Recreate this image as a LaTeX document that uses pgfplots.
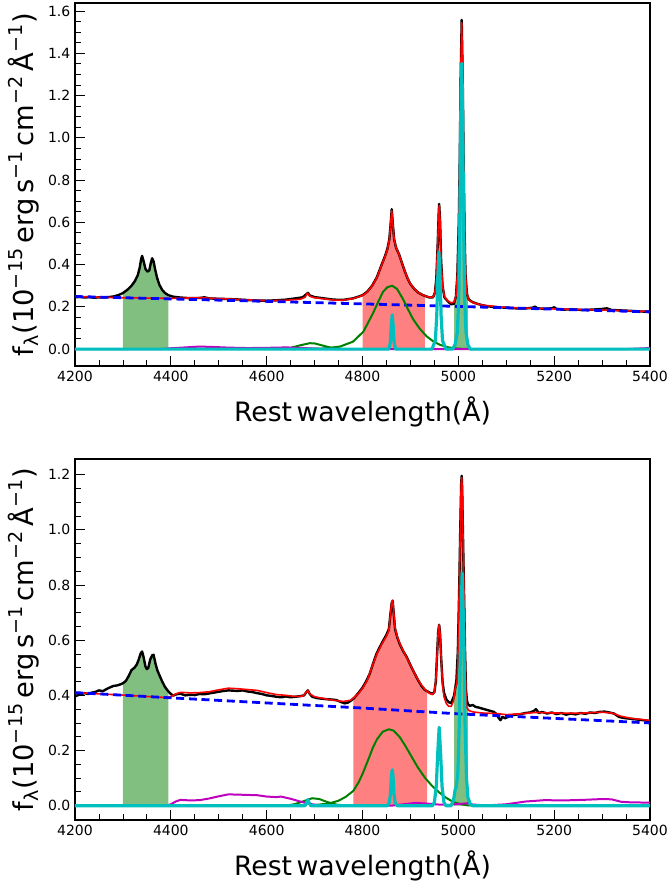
\documentclass[border=0pt]{standalone}
\usepackage{fontspec}
\setmainfont{DejaVu Sans}
\usepackage{pgfplots}
\usepackage{pgfplotstable}
\pgfplotsset{compat=1.18}
\definecolor{mplgreen}{rgb}{0,0.5,0}
\definecolor{mplcyan}{rgb}{0,0.75,0.75}
\definecolor{mplmag}{rgb}{0.75,0,0.75}
\definecolor{fillgreen}{rgb}{0.5,0.75,0.5}
\definecolor{fillred}{rgb}{1,0.5,0.5}

\pgfplotstableread{
x y
4200 0.245
4210 0.247
4220 0.244
4230 0.246
4240 0.243
4250 0.245
4260 0.244
4270 0.246
4280 0.249
4290 0.255
4300 0.265
4310 0.282
4318 0.300
4325 0.322
4331 0.350
4335 0.385
4338 0.425
4340 0.441
4343 0.418
4347 0.380
4351 0.367
4355 0.372
4358 0.405
4361 0.430
4364 0.415
4367 0.380
4371 0.340
4376 0.305
4382 0.280
4388 0.265
4395 0.255
4405 0.248
4420 0.244
4440 0.241
4460 0.242
4470 0.245
4480 0.240
4500 0.238
4520 0.237
4540 0.235
4560 0.232
4580 0.230
4600 0.229
4620 0.231
4640 0.234
4660 0.240
4675 0.245
4682 0.258
4686 0.266
4690 0.254
4700 0.246
4720 0.240
4740 0.234
4760 0.233
4780 0.240
4790 0.247
4800 0.255
4810 0.272
4820 0.300
4830 0.340
4840 0.400
4847 0.440
4852 0.475
4856 0.520
4859 0.600
4861 0.662
4863 0.600
4866 0.520
4870 0.480
4876 0.450
4882 0.410
4888 0.370
4894 0.335
4900 0.308
4908 0.285
4916 0.268
4924 0.258
4930 0.252
4940 0.244
4947 0.245
4951 0.265
4954 0.330
4957 0.500
4959 0.640
4960 0.687
4962 0.600
4964 0.420
4967 0.300
4971 0.245
4978 0.226
4985 0.212
4991 0.215
4995 0.250
4998 0.350
5001 0.600
5003 0.900
5005 1.300
5007 1.558
5009 1.300
5011 0.900
5013 0.550
5015 0.350
5018 0.262
5020 0.245
5022 0.234
5030 0.222
5040 0.214
5050 0.208
5060 0.203
5080 0.198
5100 0.196
5120 0.193
5140 0.192
5155 0.196
5160 0.201
5165 0.193
5180 0.191
5195 0.193
5200 0.198
5205 0.190
5220 0.187
5240 0.188
5260 0.185
5280 0.187
5300 0.190
5310 0.193
5320 0.185
5340 0.183
5360 0.181
5380 0.178
5400 0.177
}\specA

\pgfplotstableread{
x y
4200 0.396
4205 0.400
4212 0.404
4220 0.408
4228 0.405
4235 0.410
4242 0.412
4250 0.418
4258 0.415
4265 0.422
4272 0.428
4280 0.434
4288 0.436
4295 0.440
4300 0.444
4306 0.452
4312 0.470
4318 0.492
4324 0.500
4329 0.512
4333 0.530
4337 0.552
4340 0.559
4343 0.540
4347 0.505
4350 0.495
4353 0.500
4357 0.530
4361 0.545
4364 0.547
4368 0.515
4372 0.490
4377 0.470
4382 0.450
4388 0.430
4395 0.414
4400 0.405
4405 0.399
4412 0.404
4420 0.406
4430 0.400
4440 0.402
4450 0.401
4460 0.405
4470 0.404
4480 0.407
4490 0.410
4500 0.413
4510 0.416
4520 0.418
4530 0.417
4540 0.416
4550 0.418
4560 0.414
4570 0.412
4580 0.408
4590 0.405
4600 0.400
4610 0.398
4620 0.395
4630 0.393
4640 0.396
4650 0.393
4660 0.395
4670 0.397
4678 0.400
4683 0.412
4686 0.418
4690 0.405
4695 0.395
4705 0.390
4715 0.388
4725 0.386
4735 0.385
4745 0.383
4755 0.376
4763 0.371
4770 0.374
4777 0.382
4781 0.388
4785 0.395
4792 0.410
4800 0.428
4808 0.452
4815 0.478
4822 0.515
4829 0.550
4836 0.575
4843 0.598
4850 0.620
4855 0.640
4858 0.690
4861 0.735
4863 0.743
4865 0.700
4868 0.640
4873 0.608
4878 0.585
4885 0.560
4892 0.540
4900 0.510
4908 0.482
4916 0.455
4924 0.432
4930 0.420
4935 0.415
4940 0.410
4946 0.405
4950 0.412
4953 0.450
4956 0.560
4958 0.630
4960 0.656
4962 0.620
4964 0.540
4967 0.450
4970 0.410
4975 0.385
4980 0.375
4985 0.372
4991 0.398
4993 0.420
4996 0.455
4999 0.560
5002 0.800
5004 1.000
5006 1.170
5007 1.196
5008 1.150
5010 0.950
5012 0.760
5014 0.560
5016 0.420
5018 0.380
5020 0.368
5024 0.362
5030 0.365
5036 0.358
5042 0.356
5050 0.352
5058 0.348
5066 0.344
5074 0.340
5080 0.332
5084 0.318
5088 0.310
5092 0.322
5098 0.317
5105 0.323
5112 0.328
5120 0.330
5130 0.332
5140 0.336
5150 0.338
5158 0.344
5162 0.350
5168 0.336
5175 0.340
5185 0.334
5195 0.338
5205 0.332
5215 0.336
5225 0.330
5235 0.334
5245 0.331
5255 0.336
5265 0.333
5275 0.338
5285 0.336
5295 0.340
5305 0.341
5315 0.338
5325 0.334
5335 0.322
5345 0.318
5360 0.315
5375 0.312
5390 0.309
5400 0.307
}\specB

\pgfplotsset{
  specaxis/.style={
    scale only axis, width=431.25pt,
    xmin=4200, xmax=5400,
    xtick={4200,4400,4600,4800,5000,5200,5400},
    minor x tick num=3,
    minor y tick num=3,
    tick align=inside,
    tick pos=left,
    major tick length=7.5pt, minor tick length=4.5pt,
    every tick/.style={black, line width=0.6pt},
    axis line style={line width=0.8pt},
    tick label style={font=\fontsize{10.5}{12}\selectfont},
    /pgf/number format/assume math mode=true,
    xticklabel style={/pgf/number format/1000 sep={}},
    yticklabel style={/pgf/number format/.cd, fixed, fixed zerofill, precision=1},
    label style={font=\fontsize{20}{24}\selectfont},
    xlabel={Rest\,wavelength(Å)},
    ylabel={f\textsubscript{λ}(10\textsuperscript{−15}\,erg\,s\textsuperscript{−1}\,cm\textsuperscript{−2}\,Å\textsuperscript{−1})},
    xlabel style={at={(axis description cs:0.5,0)}, anchor=base, yshift=-41.8pt},
    ylabel style={font=\fontsize{20.5}{24}\selectfont, at={(axis description cs:-0.073,0.5)}, anchor=base},
    every axis plot post/.append style={line join=round},
  }
}

\begin{document}
\begin{tikzpicture}
\useasboundingbox (-56.25pt,2.25pt) rectangle (446.25pt,-662.25pt);
% ---------------- top panel ----------------
\begin{axis}[specaxis, at={(0,0)}, anchor=north west, height=272.25pt,
  ymin=-0.08, ymax=1.638, ytick={0,0.2,0.4,0.6,0.8,1.0,1.2,1.4,1.6}]
\addplot[fill=fillgreen, draw=none, restrict x to domain=4299.9:4395.1] table[x=x,y=y]{\specA} \closedcycle;
\addplot[fill=fillred, draw=none, restrict x to domain=4799.9:4930.1] table[x=x,y=y]{\specA} \closedcycle;
\addplot[fill=fillgreen, draw=none, restrict x to domain=4990.9:5020.1] table[x=x,y=y]{\specA} \closedcycle;
\addplot[black, line width=1.8pt] table[x=x,y=y]{\specA};
\addplot[red, line width=1.2pt] coordinates {
(4200,0.249) (4300,0.243) (4400,0.240) (4460,0.243) (4500,0.239) (4560,0.233) (4600,0.229)
(4640,0.231) (4670,0.236) (4680,0.245) (4685,0.265) (4690,0.250) (4700,0.243) (4720,0.238)
(4740,0.232) (4760,0.232) (4780,0.239) (4790,0.246) (4800,0.254) (4810,0.271) (4820,0.299)
(4830,0.338) (4840,0.398) (4847,0.438) (4852,0.472) (4856,0.518) (4859,0.600) (4861,0.655)
(4863,0.600) (4866,0.520) (4870,0.482) (4876,0.448) (4882,0.410) (4888,0.370) (4894,0.336)
(4900,0.309) (4908,0.285) (4916,0.268) (4924,0.258) (4930,0.252) (4940,0.245) (4947,0.246)
(4951,0.265) (4954,0.330) (4957,0.500) (4959,0.640) (4960,0.680) (4962,0.600) (4964,0.420)
(4967,0.300) (4971,0.248) (4978,0.228) (4985,0.219) (4991,0.222) (4995,0.250) (4998,0.350)
(5001,0.600) (5003,0.900) (5005,1.300) (5007,1.545) (5009,1.300) (5011,0.900) (5013,0.550)
(5015,0.350) (5018,0.262) (5022,0.232) (5030,0.220) (5050,0.208) (5100,0.197) (5200,0.190)
(5300,0.185) (5400,0.178)};
\addplot[blue, line width=2.1pt, dash pattern=on 6pt off 3.5pt] coordinates {
(4200,0.249) (4600,0.226) (5000,0.202) (5400,0.176)};
\addplot[mplgreen, line width=1.5pt] coordinates {
(4630,0) (4650,0.006) (4670,0.018) (4690,0.028) (4700,0.027) (4715,0.018) (4735,0.006) (4760,0)};
\addplot[mplgreen, line width=1.5pt] coordinates {
(4650,0) (4720,0.003) (4753,0.012) (4780,0.035) (4802,0.083) (4822,0.170) (4833,0.225)
(4843,0.272) (4852,0.293) (4862,0.300) (4872,0.285) (4885,0.235) (4895,0.188) (4906,0.140)
(4920,0.095) (4934,0.060) (4948,0.036) (4962,0.020) (4980,0.008) (5000,0.002) (5030,0)};
\addplot[mplmag, line width=1.5pt] coordinates {
(4200,0) (4380,0) (4400,0.004) (4430,0.008) (4460,0.012) (4490,0.010) (4520,0.007)
(4560,0.005) (4600,0.006) (4640,0.008) (4670,0.006) (4700,0.002) (4750,0) (5350,0)
(5380,0.003) (5400,0.005)};
\addplot[mplcyan, line width=2.4pt] coordinates {
(4200,0) (4855,0) (4858,0.03) (4860,0.11) (4862,0.162) (4864,0.11) (4866,0.03) (4869,0)
(4945,0) (4952,0.04) (4955,0.16) (4957,0.33) (4959.5,0.459) (4962,0.33) (4964,0.16)
(4967,0.04) (4974,0) (4988,0) (4993,0.02) (4998,0.08) (5001,0.25) (5003,0.6) (5005,1.1)
(5007.3,1.353) (5009,1.1) (5011,0.6) (5013,0.25) (5016,0.08) (5020,0.02) (5025,0) (5400,0)};
\end{axis}
% ---------------- bottom panel ----------------
\begin{axis}[specaxis, at={(0,-342pt)}, anchor=north west, height=270.75pt,
  ymin=-0.052, ymax=1.257, ytick={0,0.2,0.4,0.6,0.8,1.0,1.2}]
\addplot[fill=fillgreen, draw=none, restrict x to domain=4299.9:4395.1] table[x=x,y=y]{\specB} \closedcycle;
\addplot[fill=fillred, draw=none, restrict x to domain=4780.9:4935.1] table[x=x,y=y]{\specB} \closedcycle;
\addplot[fill=fillgreen, draw=none, restrict x to domain=4990.9:5020.1] table[x=x,y=y]{\specB} \closedcycle;
\addplot[black, line width=1.8pt] table[x=x,y=y]{\specB};
\addplot[red, line width=1.2pt] coordinates {
(4200,0.410) (4300,0.401) (4390,0.392) (4400,0.395) (4410,0.405) (4420,0.411) (4440,0.409)
(4460,0.410) (4480,0.413) (4500,0.420) (4520,0.426) (4540,0.424) (4560,0.421) (4580,0.418)
(4600,0.410) (4620,0.403) (4640,0.400) (4660,0.396) (4675,0.397) (4682,0.410) (4686,0.418)
(4690,0.405) (4700,0.395) (4720,0.388) (4740,0.382) (4760,0.378) (4775,0.382) (4790,0.404)
(4800,0.425) (4810,0.455) (4820,0.505) (4830,0.550) (4840,0.585) (4850,0.615) (4855,0.635)
(4858,0.690) (4861,0.738) (4863,0.745) (4865,0.705) (4868,0.645) (4873,0.610) (4880,0.580)
(4890,0.545) (4900,0.510) (4910,0.475) (4920,0.445) (4930,0.422) (4940,0.407) (4946,0.403)
(4950,0.412) (4953,0.455) (4956,0.560) (4958,0.630) (4960,0.656) (4962,0.620) (4964,0.540)
(4967,0.440) (4970,0.395) (4975,0.370) (4980,0.360) (4985,0.360) (4990,0.380) (4994,0.430)
(4997,0.440) (4999,0.530) (5002,0.800) (5004,1.000) (5006,1.170) (5007,1.190) (5008,1.150)
(5010,0.950) (5012,0.760) (5014,0.560) (5016,0.400) (5018,0.355) (5022,0.345) (5030,0.340)
(5050,0.336) (5080,0.334) (5100,0.330) (5130,0.333) (5160,0.338) (5200,0.336) (5250,0.335)
(5300,0.339) (5320,0.336) (5340,0.324) (5360,0.317) (5400,0.309)};
\addplot[blue, line width=2.1pt, dash pattern=on 6pt off 3.5pt] coordinates {
(4200,0.410) (4400,0.391) (4800,0.354) (5000,0.333) (5400,0.300)};
\addplot[mplgreen, line width=1.5pt] coordinates {
(4640,0) (4660,0.006) (4680,0.018) (4695,0.027) (4710,0.024) (4725,0.014) (4745,0.004) (4770,0)};
\addplot[mplgreen, line width=1.5pt] coordinates {
(4700,0.002) (4730,0.008) (4750,0.018) (4765,0.032) (4781,0.054) (4792,0.085) (4800,0.115)
(4815,0.180) (4822,0.212) (4830,0.240) (4842,0.268) (4855,0.277) (4865,0.272) (4878,0.248)
(4890,0.215) (4900,0.185) (4915,0.140) (4930,0.102) (4945,0.072) (4960,0.048) (4975,0.028)
(4990,0.013) (5005,0.005) (5020,0.001) (5040,0)};
\addplot[mplmag, line width=1.5pt] coordinates {
(4200,0) (4390,0) (4400,0.005) (4410,0.015) (4420,0.021) (4440,0.019) (4460,0.020)
(4480,0.026) (4500,0.034) (4520,0.041) (4540,0.040) (4560,0.039) (4580,0.038) (4600,0.033)
(4620,0.031) (4630,0.033) (4650,0.025) (4670,0.015) (4690,0.006) (4710,0.002) (4750,0)
(4860,0) (4880,0.004) (4910,0.010) (4930,0.008) (4960,0.004) (4980,0.003) (5000,0.006)
(5020,0.009) (5030,0.004) (5060,0.001) (5100,0.005) (5140,0.015) (5180,0.020) (5220,0.019)
(5260,0.021) (5300,0.024) (5320,0.023) (5340,0.014) (5360,0.012) (5400,0.011)};
\addplot[mplcyan, line width=2.4pt] coordinates {
(4200,0) (4680,0) (4684,0.012) (4686,0.022) (4688,0.012) (4692,0)
(4852,0) (4856,0.012) (4858.5,0.045) (4860.5,0.11) (4862,0.13) (4863.5,0.11) (4865.5,0.045)
(4868,0.012) (4872,0) (4946,0) (4950,0.012) (4954,0.07) (4957,0.19) (4960,0.284) (4963,0.19)
(4966,0.07) (4970,0.012) (4974,0) (4985,0) (4990,0.02) (4993,0.055) (4996,0.07) (4999,0.12)
(5002,0.3) (5005,0.65) (5008,0.843) (5011,0.65) (5014,0.3) (5017,0.10) (5020,0.03)
(5025,0.005) (5030,0) (5400,0)};
\end{axis}
\end{tikzpicture}
\end{document}
